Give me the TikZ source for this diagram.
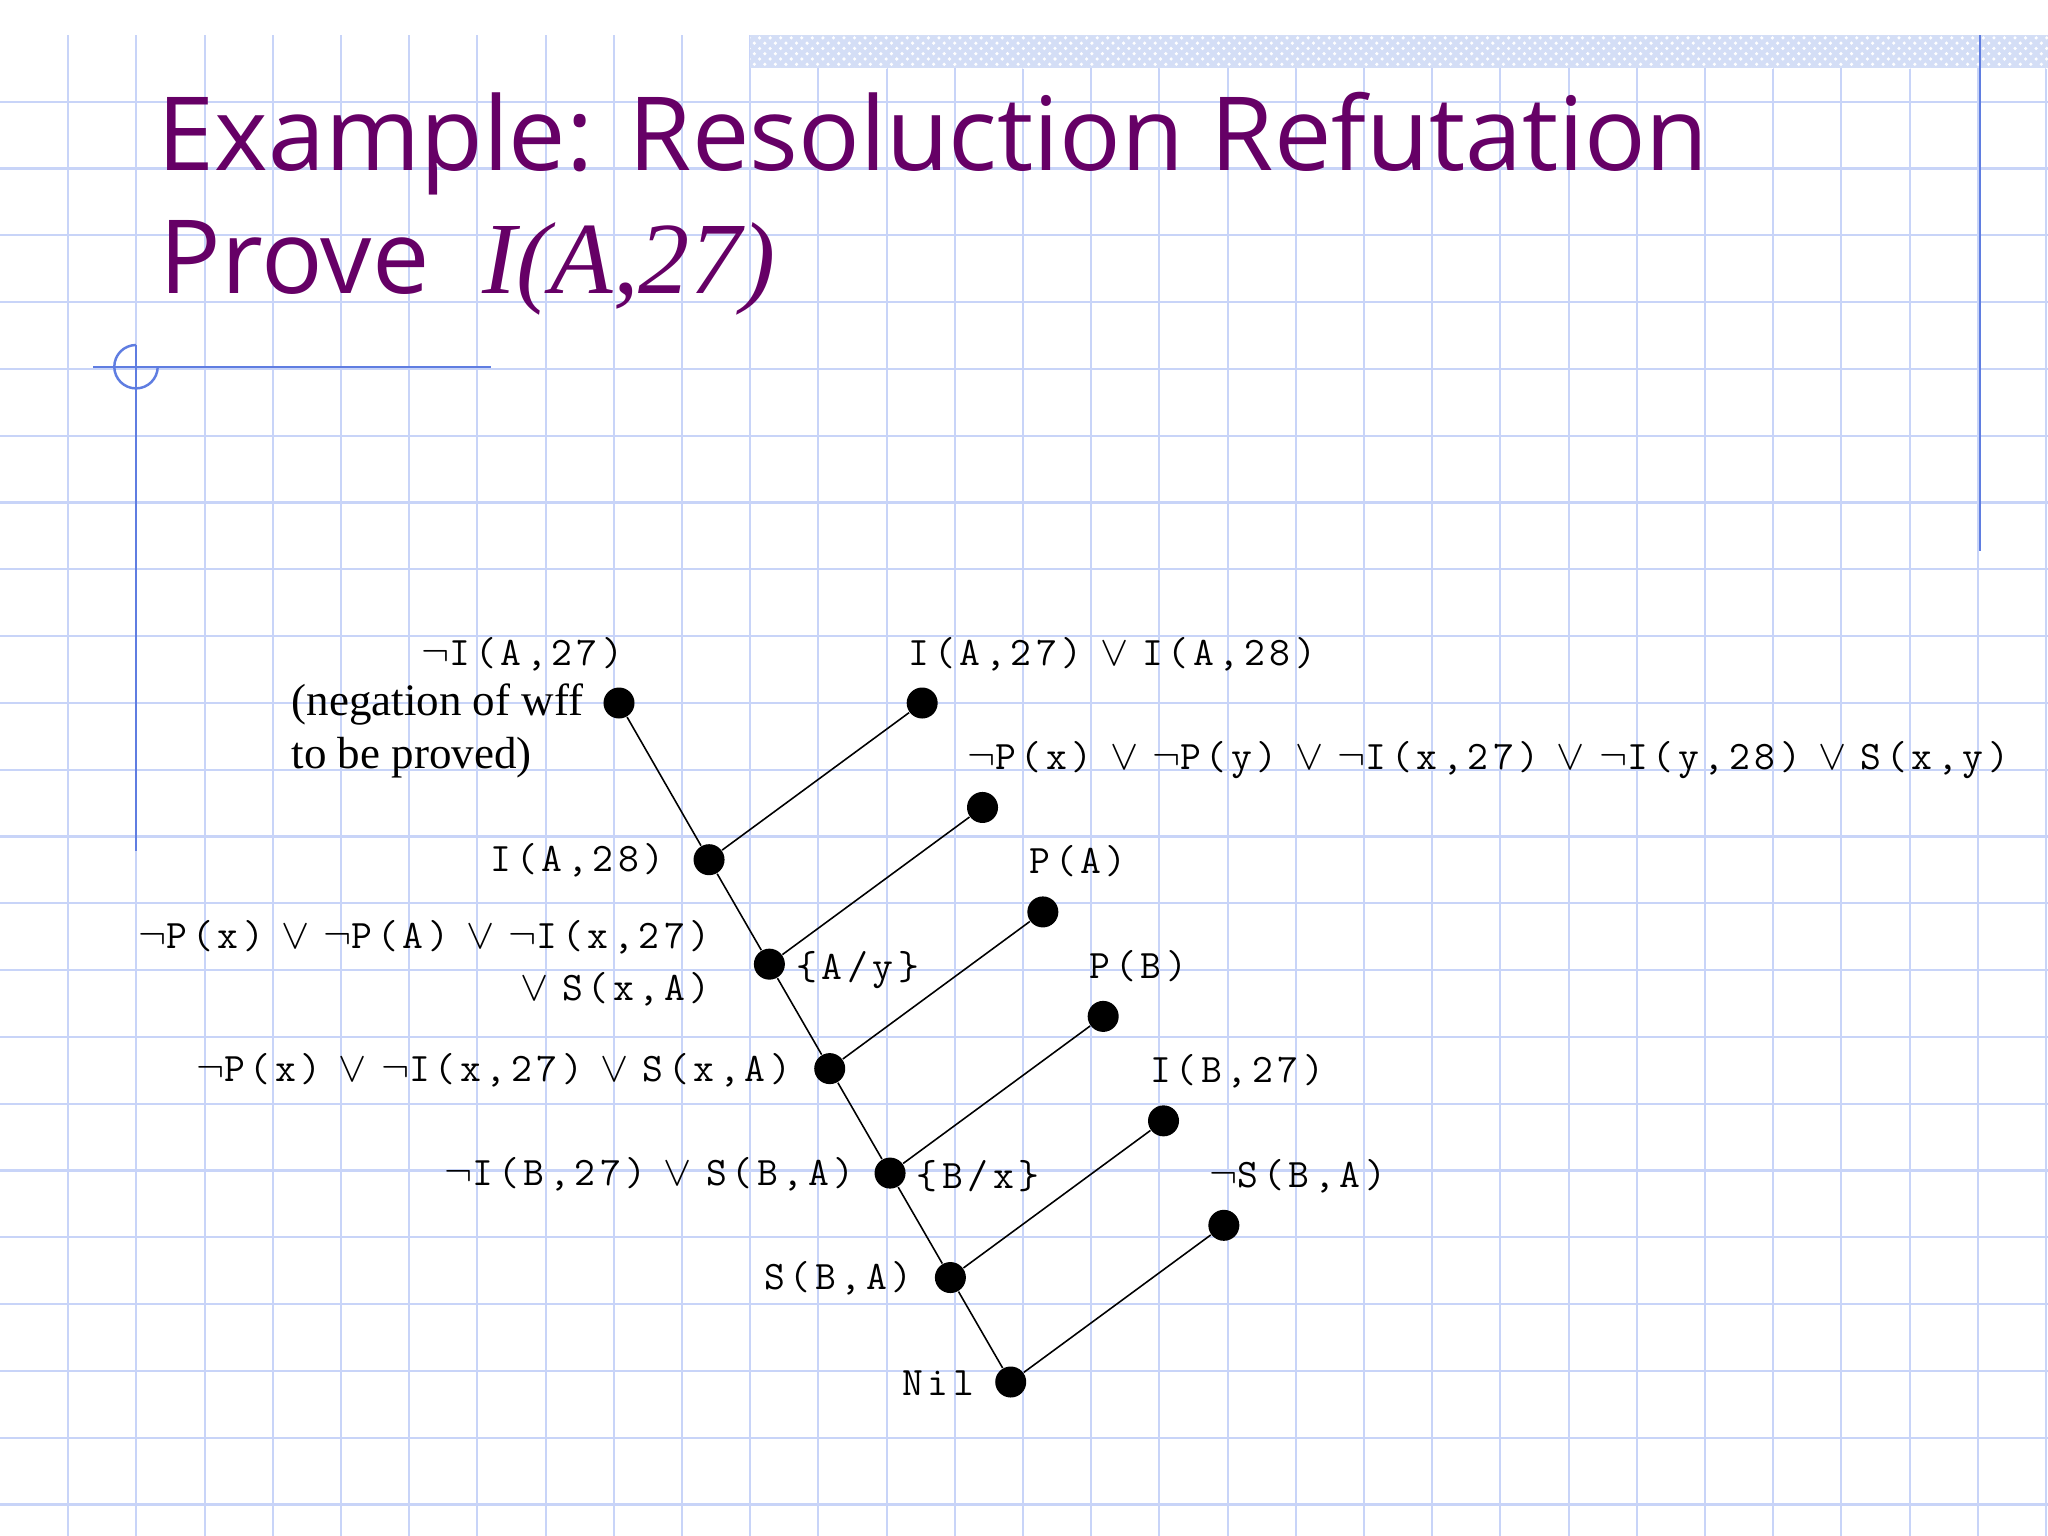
\documentclass[tikz,border=0pt]{standalone}
\usepackage{fontspec}
\setmainfont{Liberation Serif}
\newfontfamily\titlefont{Open Sans}
\newfontfamily\clausefont{Latin Modern Mono}[LetterSpace=11.5]
\usetikzlibrary{positioning,calc,patterns}

\definecolor{gridblue}{RGB}{200,212,248}
\definecolor{markblue}{RGB}{95,125,225}
\definecolor{bandblue}{RGB}{212,222,246}
\definecolor{titlepurple}{RGB}{102,0,102}

\newcommand\Or{\hspace{5pt}$\vee$\hspace{4pt}}
\newcommand\NOT{$\neg$}

\tikzset{
  dot/.style={circle, fill=black, inner sep=0pt, minimum size=0.31cm},
  lbl/.style={inner sep=0pt, font=\fontsize{11.5}{14.8}\selectfont\clausefont},
  note/.style={inner sep=0pt, align=left, font=\fontsize{12.8}{14.8}\selectfont},
  headline/.style={inner sep=0pt, text=titlepurple, font=\titlefont\fontsize{29.1}{35}\selectfont},
  edge/.style={black, line width=0.45pt},
  gridline/.style={gridblue, line width=0.6pt},
  markline/.style={markblue, line width=0.7pt},
}

\begin{document}
\begin{tikzpicture}[x=0.01cm, y=-0.01cm, node distance=1.044cm and 0.603cm, on grid]
\useasboundingbox (0,0) rectangle (2048,1536);
\fill[white] (0,0) rectangle (2048,1536);
% grid paper
\foreach \i in {1,...,30} \draw[gridline] (68.2*\i,35) -- (68.2*\i,1536);
\foreach \j in {0,...,21} \draw[gridline] (0,101.7+66.8*\j) -- (2048,101.7+66.8*\j);
\fill[bandblue] (750,35) rectangle (2048,68);
\fill[pattern=crosshatch dots, pattern color=white] (750,35) rectangle (2048,68);
\draw[markline] (1980,35) -- (1980,551);
% corner mark
\draw[markline] (93,367) -- (491,367);
\draw[markline] (136,345) -- (136,851);
\draw[markline] (136,345) arc[start angle=-90, end angle=-360, radius=21.7];

% title
\node[headline, anchor=base west] (title) at (157,170) {Example: Resoluction Refutation};
\node[headline, anchor=base west] (goal) at (159,293) {Prove~~{\rmfamily\itshape I(A,27)}};

% resolution tree
\node[dot] (negq) at (619,703) {};
\node[dot, right=3.03cm of negq] (ax1) {};
\node[dot, below right=1.566cm and 0.9cm of negq] (r1) {};
\node[dot, below right=of r1] (r2) {};
\node[dot, below right=of r2] (r3) {};
\node[dot, below right=of r3] (r4) {};
\node[dot, below right=of r4] (r5) {};
\node[dot, below right=of r5] (nil) {};
\node[dot, below right=of ax1] (ax2) {};
\node[dot, below right=of ax2] (pa) {};
\node[dot, below right=of pa] (pb) {};
\node[dot, below right=of pb] (ib) {};
\node[dot, below right=of ib] (nsb) {};

\draw[edge] (negq) -- (r1) -- (r2) -- (r3) -- (r4) -- (r5) -- (nil);
\draw[edge] (ax1) -- (r1);
\draw[edge] (ax2) -- (r2);
\draw[edge] (pa) -- (r3);
\draw[edge] (pb) -- (r4);
\draw[edge] (ib) -- (r5);
\draw[edge] (nsb) -- (nil);

% clause labels
\node[lbl, anchor=base east] (tnegq) at ($(negq)+(5,-38)$) {\NOT{}I(A,27)};
\node[note, anchor=base west] (tnote) at ($(negq)+(-328,65)$) {(negation of wff\\to be proved)};
\node[lbl, anchor=base west] (tax1) at ($(ax1)+(-14,-38)$) {I(A,27)\Or{}I(A,28)};
\node[lbl, anchor=base west] (tax2) at ($(ax2)+(-16,-38)$) {\NOT{}P(x)\Or\NOT{}P(y)\Or\NOT{}I(x,27)\Or\NOT{}I(y,28)\Or{}S(x,y)};
\node[lbl, anchor=base west] (tpa) at ($(pa)+(-14,-38)$) {P(A)};
\node[lbl, anchor=base west] (tpb) at ($(pb)+(-14,-38)$) {P(B)};
\node[lbl, anchor=base west] (tib) at ($(ib)+(-14,-38)$) {I(B,27)};
\node[lbl, anchor=base west] (tnsb) at ($(nsb)+(-15,-38)$) {\NOT{}S(B,A)};
\node[lbl, anchor=base east] (tr1) at ($(r1)+(-44,12)$) {I(A,28)};
\node[lbl, anchor=base east, align=right] (tr2) at ($(r2)+(-58,36)$) {\NOT{}P(x)\Or\NOT{}P(A)\Or\NOT{}I(x,27)\\\Or{}S(x,A)};
\node[lbl, anchor=base east] (tr3) at ($(r3)+(-38,13)$) {\NOT{}P(x)\Or\NOT{}I(x,27)\Or{}S(x,A)};
\node[lbl, anchor=base east] (tr4) at ($(r4)+(-35,12)$) {\NOT{}I(B,27)\Or{}S(B,A)};
\node[lbl, anchor=base east] (tr5) at ($(r5)+(-37,12)$) {S(B,A)};
\node[lbl, anchor=base east] (tnil) at ($(nil)+(-36,13)$) {Nil};
\node[lbl, anchor=base west] (sub2) at ($(r2)+(26,15)$) {\{A/y\}};
\node[lbl, anchor=base west] (sub4) at ($(r4)+(26,15)$) {\{B/x\}};
\end{tikzpicture}
\end{document}
